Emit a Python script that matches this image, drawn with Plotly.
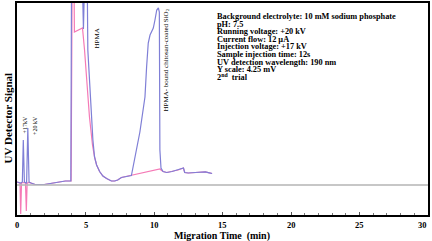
import plotly.graph_objects as go

# Blue trace (run with spikes)
blue_t = [0.0, 0.15, 0.27, 0.39, 0.46, 0.54, 0.70, 0.79, 0.88, 1.03, 1.32, 1.99, 2.5, 3.0, 3.53, 3.93,
          3.99, 4.70, 4.85, 5.0, 5.1, 5.17, 5.29, 5.42, 5.54, 5.66, 5.81, 6.03, 6.27, 6.54, 6.89, 7.13,
          7.35, 7.62, 7.94, 8.35, 8.97, 9.34, 9.46, 9.58, 9.71, 9.95, 10.07, 10.2, 10.32, 10.39, 10.43,
          10.46, 10.51, 10.66, 10.93, 11.32, 11.76, 12.15, 12.24, 12.5, 13.01, 13.38, 13.75, 14.04, 14.24]
blue_v = [3, 2, 2, 3, 45, 3, 2, 57, 3, 2, 0.5, 0.5, 1.5, 2.5, 4, 4,
          245, 245, 156, 245, 245, 135, 102, 69, 45, 28, 20, 13.5, 9, 6.5, 4, 4,
          5, 7.5, 8.5, 9.5, 53, 88, 118, 142, 150, 157, 165, 175, 177, 173, 35,
          28, 17, 13.5, 12.5, 13.5, 15, 17, 12.5, 12, 12.5, 13.2, 13.2, 12.2, 11.5]

# Pink trace (run with dips)
pink_t = [0.0, 0.15, 0.22, 0.27, 0.33, 0.46, 0.62, 0.68, 0.74, 0.88, 1.03, 1.32, 1.99, 2.5, 3.0, 3.53, 3.95,
          4.04, 4.14, 4.19, 4.78, 4.93, 5.29, 5.51, 5.66, 5.81, 6.03, 6.27, 6.54, 6.89, 7.13,
          7.35, 7.62, 7.94, 8.35, 10.44, 10.51, 10.66, 10.93, 11.32, 11.76, 12.15, 12.24, 12.5, 13.01,
          13.38, 13.75, 14.04, 14.24]
pink_v = [3, 2, 2, -29, 2, 2.5, 2, -26, 2, 2.5, 2, 0.5, 0.5, 1.5, 2.5, 4, 4,
          245, 245, 153, 157, 135, 68, 40, 28, 20, 13.5, 9, 6.5, 4, 4,
          5, 7.5, 8.5, 9.5, 16, 15, 13.5, 12.5, 13.5, 15, 17, 12.5, 12, 12.5,
          13.2, 13.2, 12.2, 11.5]

x_ticks = [0, 5, 10, 15, 20, 25, 30]

info_lines = [
    "Background electrolyte: 10 mM sodium phosphate",
    "pH: 7.5",
    "Running voltage: +20 kV",
    "Current flow: 12 \u00b5A",
    "Injection voltage: +17 kV",
    "Sample injection time: 12s",
    "UV detection wavelength: 190 nm",
    "Y scale: 4.25 mV",
    "2<sup>nd</sup>  trial",
]

SERIF = "Liberation Serif"
L, R, T, B = 17, 4, 3, 26
W, H = 432.0 - L - R, 241.0 - T - B

def px2paper(px, py):
    return (px - L) / W, (241 - B - py) / H

fig = go.Figure()
fig.add_trace(go.Scatter(x=pink_t, y=pink_v, mode="lines",
                         line=dict(color="#f57ab6", width=1.2), showlegend=False))
fig.add_trace(go.Scatter(x=blue_t, y=blue_v, mode="lines",
                         line=dict(color="#7f7fd6", width=1.2), showlegend=False))

# baseline grey line
fig.add_shape(type="line", xref="paper", yref="y", x0=0, x1=1, y0=0, y1=0,
              line=dict(color="#b4b4b4", width=1.5))

annos = []
# info box text
line_py = [16.5, 24.1, 31.7, 39.3, 46.9, 54.5, 62.1, 69.7, 77.5]
for txt, py in zip(info_lines, line_py):
    x, y = px2paper(216, py)
    annos.append(dict(text="<b>" + txt + "</b>", xref="paper", yref="paper",
                      x=x, y=y, xanchor="left", yanchor="middle", borderpad=0,
                      showarrow=False, font=dict(family=SERIF, size=8.3, color="black")))

# rotated labels
def rot(text, px, py, size=7, bold=False):
    t = "<b>" + text + "</b>" if bold else text
    x, y = px2paper(px, py)
    return dict(text=t, xref="paper", yref="paper", x=x, y=y, borderpad=0,
                xanchor="center", yanchor="middle", textangle=-90, showarrow=False,
                font=dict(family=SERIF, size=size, color="black"))

annos.append(rot("+17kV", 24.5, 125, 6))
annos.append(rot("+20 kV", 35, 126, 6))
annos.append(rot("HPMA", 96.5, 39, 7))
annos.append(rot("HPMA- bound chitosan-coated SiO<sub>2</sub>", 165.5, 60, 7))
annos.append(rot("UV Detector Signal", 7.5, 118, 11, bold=True))

# x tick labels
for v in x_ticks:
    x = v / 30.0
    annos.append(dict(text="<b>%d</b>" % v, xref="paper", yref="paper", x=x, y=px2paper(0, 225)[1],
                      xanchor="right" if v == 30 else "center", yanchor="middle", borderpad=0,
                      showarrow=False, font=dict(family=SERIF, size=8.5, color="black")))
# x axis title
x, y = px2paper(222, 236)
annos.append(dict(text="<b>Migration Time  (min)</b>", xref="paper", yref="paper", x=x, y=y,
                  xanchor="center", yanchor="middle", borderpad=0, showarrow=False,
                  font=dict(family=SERIF, size=10, color="black")))

fig.update_layout(
    width=432, height=241,
    margin=dict(l=L, r=R, t=T, b=B, autoexpand=False),
    paper_bgcolor="white", plot_bgcolor="white",
    annotations=annos,
    xaxis=dict(range=[0, 30], tickvals=x_ticks, showticklabels=False,
               showgrid=False, zeroline=False, showline=True, linecolor="black", linewidth=2,
               mirror=True, ticks="inside", ticklen=3, tickcolor="#555",
               minor=dict(dtick=1, ticks="inside", ticklen=2, tickcolor="#777")),
    yaxis=dict(range=[-30, 182], showticklabels=False, showgrid=False, zeroline=False,
               showline=True, linecolor="black", linewidth=2, mirror=True, ticks=""),
)

fig.write_html("out.html", config={"displayModeBar": False},
               post_script="document.body.style.margin='0';document.body.style.overflow='hidden';")
